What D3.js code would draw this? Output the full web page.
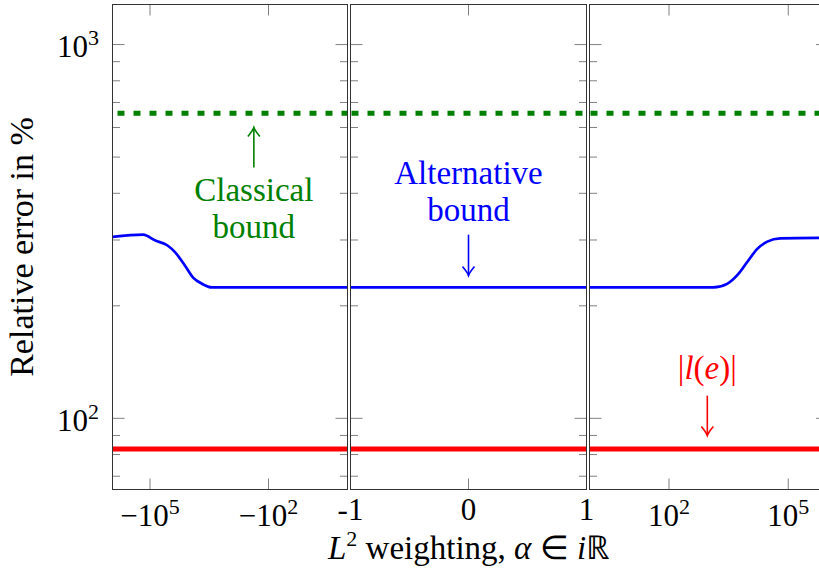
<!DOCTYPE html>
<html>
<head>
<meta charset="utf-8">
<script src="https://cdn.jsdelivr.net/npm/d3@7"></script>
<style>
body { margin: 0; background: #fff; }
text { font-family: "Liberation Serif", "Times New Roman", serif; }
</style>
</head>
<body>
<svg id="chart" width="819" height="579"></svg>
<script>
// values
var alphaLeft  = [-8.9e5, -1.5e5, -7.3e4, -3.6e4, -2.3e4, -1.3e4, -8.1e3, -4.8e3, -2.7e3, -1e3, -1];
var altLeft    = [306, 310, 299, 290, 278, 256, 238, 229, 224, 224, 224];
var alphaMid   = [-1, 1];
var altMid     = [224, 224];
var alphaRight = [1, 1.3e3, 2.9e3, 5.5e3, 9.3e3, 1.66e4, 2.97e4, 6.3e4, 1e6];
var altRight   = [224, 224, 229, 243, 262, 284, 297, 303, 304];
var classicalBound = 655;   // green dashed
var lOfE = 82.8;            // red

var yMajor = [100, 1000];
var yMinor = [70, 80, 90, 200, 300, 400, 500, 600, 700, 800, 900];
var leftTicks  = [-1e5, -1e2];
var leftLabels = [["\u221210", "5"], ["\u221210", "2"]];
var midTicks   = [-1, 0, 1];
var midLabels  = [["-1", ""], ["0", ""], ["1", ""]];
var rightTicks = [1e2, 1e5];
var rightLabels = [["10", "2"], ["10", "5"]];

var svg = d3.select("#chart");
var plotTop = 4.5, plotBottom = 489.5;
var green = "rgb(0,128,0)", blue = "#0000ff", red = "#ff0000";
var tickFont = 31, supFont = 22, textFont = 33;

var y = d3.scaleLog().domain([64.5, 1280]).range([plotBottom, plotTop]);

var panels = [
    {x: d3.scaleLog().domain([-8.9e5, -1]).range([112.5, 347.5]), a: alphaLeft, v: altLeft,
     ticks: leftTicks, labels: leftLabels, dashOff: 11},
    {x: d3.scaleLinear().domain([-1, 1]).range([350.5, 586.5]), a: alphaMid, v: altMid,
     ticks: midTicks, labels: midLabels, dashOff: 15},
    {x: d3.scaleLog().domain([1, 1e6]).range([589.5, 828]), a: alphaRight, v: altRight,
     ticks: rightTicks, labels: rightLabels, dashOff: 15}
];

panels.forEach(function (p, i) {
    var r = p.x.range(), d = p.x.domain();
    var g = svg.append("g");
    var cid = "clip" + i;
    g.append("clipPath").attr("id", cid).append("rect")
        .attr("x", r[0]).attr("y", plotTop).attr("width", r[1] - r[0]).attr("height", plotBottom - plotTop);
    var plot = g.append("g").attr("clip-path", "url(#" + cid + ")");

    // horizontal reference curves
    plot.append("line")
        .attr("x1", r[0]).attr("x2", r[1])
        .attr("y1", y(classicalBound)).attr("y2", y(classicalBound))
        .attr("stroke", green).attr("stroke-width", 5)
        .attr("stroke-dasharray", "7,9").attr("stroke-dashoffset", p.dashOff);
    plot.append("line")
        .attr("x1", p.x(d[0])).attr("x2", p.x(d[1]))
        .attr("y1", y(lOfE)).attr("y2", y(lOfE))
        .attr("stroke", red).attr("stroke-width", 5);

    var line = d3.line()
        .x(function (k) { return p.x(p.a[k]); })
        .y(function (k) { return y(p.v[k]); })
        .curve(d3.curveMonotoneX);
    plot.append("path")
        .attr("d", line(d3.range(p.a.length)))
        .attr("fill", "none").attr("stroke", blue).attr("stroke-width", 2.7);

    // y ticks on both sides, pointing inwards
    [[r[0], 1], [r[1], -1]].forEach(function (s) {
        g.selectAll(null).data(yMajor).enter().append("line")
            .attr("x1", s[0]).attr("x2", s[0] + s[1] * 12)
            .attr("y1", y).attr("y2", y)
            .attr("stroke", "#808080").attr("stroke-width", 1);
        g.selectAll(null).data(yMinor).enter().append("line")
            .attr("x1", s[0]).attr("x2", s[0] + s[1] * 7.5)
            .attr("y1", y).attr("y2", y)
            .attr("stroke", "#808080").attr("stroke-width", 1);
    });
    // x ticks top and bottom
    g.selectAll(null).data(p.ticks).enter().append("line")
        .attr("x1", p.x).attr("x2", p.x)
        .attr("y1", plotBottom).attr("y2", plotBottom - 11)
        .attr("stroke", "#808080").attr("stroke-width", 1);
    g.selectAll(null).data(p.ticks).enter().append("line")
        .attr("x1", p.x).attr("x2", p.x)
        .attr("y1", plotTop).attr("y2", plotTop + 11)
        .attr("stroke", "#808080").attr("stroke-width", 1);

    g.append("rect")
        .attr("x", r[0]).attr("y", plotTop).attr("width", r[1] - r[0]).attr("height", plotBottom - plotTop)
        .attr("fill", "none").attr("stroke", "#333").attr("stroke-width", 1);

    // x tick labels
    p.ticks.forEach(function (t, j) {
        var lab = p.labels[j];
        var txt = svg.append("text")
            .attr("x", p.x(t)).attr("y", lab[1] ? 526 : 520)
            .attr("text-anchor", "middle").attr("font-size", tickFont).attr("fill", "#000");
        txt.append("tspan").text(lab[0]);
        if (lab[1]) txt.append("tspan").attr("font-size", supFont).attr("dy", -12).text(lab[1]);
    });
});

// y tick labels (left panel only)
yMajor.forEach(function (t) {
    var txt = svg.append("text")
        .attr("x", 99).attr("y", y(t) + 12.5)
        .attr("text-anchor", "end").attr("font-size", tickFont).attr("fill", "#000");
    txt.append("tspan").text("10");
    txt.append("tspan").attr("font-size", supFont).attr("dy", -12).text(Math.round(Math.log10(t)));
});

// axis titles
svg.append("text")
    .attr("transform", "translate(33," + ((plotTop + plotBottom) / 2) + ") rotate(-90)")
    .attr("text-anchor", "middle").attr("font-size", 34).attr("fill", "#000")
    .text("Relative error in %");

var xl = svg.append("text")
    .attr("x", 469).attr("y", 559)
    .attr("text-anchor", "middle").attr("font-size", textFont).attr("fill", "#000");
xl.append("tspan").attr("font-style", "italic").text("L");
xl.append("tspan").attr("font-size", supFont).attr("dy", -13).text("2");
xl.append("tspan").attr("dy", 13).text(" weighting, ");
xl.append("tspan").attr("font-style", "italic").text("\u03b1");
xl.append("tspan").text(" \u2208 ");
xl.append("tspan").attr("font-style", "italic").text("i");
xl.append("tspan").text("\u211d");

// annotations
function arrow(x0, yFrom, yTo, col) {
    var dir = yTo < yFrom ? 1 : -1;
    svg.append("line").attr("x1", x0).attr("x2", x0).attr("y1", yFrom).attr("y2", yTo)
        .attr("stroke", col).attr("stroke-width", 1.6);
    svg.append("path")
        .attr("d", "M" + (x0 - 6) + "," + (yTo + dir * 9) +
            " Q" + (x0 - 1) + "," + (yTo + dir * 3) + " " + x0 + "," + yTo +
            " Q" + (x0 + 1) + "," + (yTo + dir * 3) + " " + (x0 + 6) + "," + (yTo + dir * 9))
        .attr("fill", "none").attr("stroke", col).attr("stroke-width", 1.6);
}
function label(x0, yb, lines, col) {
    lines.forEach(function (s, k) {
        svg.append("text").attr("x", x0).attr("y", yb + k * 37)
            .attr("text-anchor", "middle").attr("font-size", textFont).attr("fill", col).text(s);
    });
}

var xg = panels[0].x(-235);
arrow(xg, y(469), y(600), green);
label(xg, 201, ["Classical", "bound"], green);

var xb = panels[1].x(0);
label(xb, 184, ["Alternative", "bound"], blue);
arrow(xb, y(310), y(241), blue);

var xr = panels[2].x(920);
var rl = svg.append("text").attr("x", xr).attr("y", 379)
    .attr("text-anchor", "middle").attr("font-size", textFont).attr("fill", red);
rl.append("tspan").text("|");
rl.append("tspan").attr("font-style", "italic").text("l");
rl.append("tspan").text("(");
rl.append("tspan").attr("font-style", "italic").text("e");
rl.append("tspan").text(")|");
arrow(xr, y(115), y(90), red);
</script>
</body>
</html>
